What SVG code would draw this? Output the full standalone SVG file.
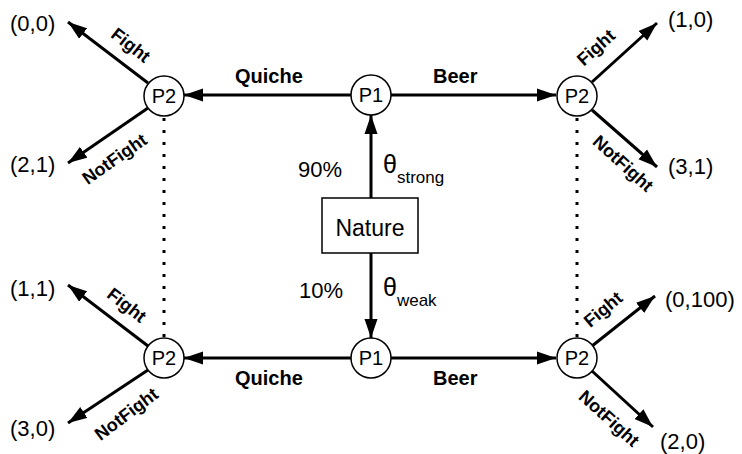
<svg xmlns="http://www.w3.org/2000/svg" width="742" height="454" viewBox="0 0 742 454">
<defs>
<marker id="ah" markerUnits="userSpaceOnUse" markerWidth="20" markerHeight="14" refX="19" refY="7" orient="auto"><path d="M0,0.5 L19,7 L0,13.5 z" fill="#000"/></marker>
<style>
.e{stroke:#000;stroke-width:3;fill:none;marker-end:url(#ah)}
.d{stroke:#000;stroke-width:3;fill:none;stroke-dasharray:3 9}
.n{fill:#fff;stroke:#000;stroke-width:1.5}
.t{font-family:"Liberation Sans",Arial,sans-serif;fill:#000}
.c{font-size:20px;text-anchor:middle}
.p{font-size:22px}
.b{font-size:20px;font-weight:bold}
.l{font-size:18px;font-weight:bold;text-anchor:middle}
</style>
</defs>
<g id="connectors">
<line class="e" x1="351" y1="95" x2="184" y2="95"/>
<line class="e" x1="391" y1="95" x2="556" y2="95"/>
<line class="e" x1="351" y1="358" x2="184" y2="358"/>
<line class="e" x1="391" y1="358" x2="556" y2="358"/>
<line class="e" x1="371" y1="198" x2="371" y2="115"/>
<line class="e" x1="371" y1="253" x2="371" y2="338"/>
<line class="e" x1="148" y1="83" x2="68" y2="22"/>
<line class="e" x1="148" y1="108" x2="68" y2="163"/>
<line class="e" x1="148" y1="346" x2="68" y2="285"/>
<line class="e" x1="148" y1="370" x2="68" y2="423"/>
<line class="e" x1="592" y1="82" x2="657" y2="23"/>
<line class="e" x1="592" y1="110" x2="657" y2="167"/>
<line class="e" x1="592" y1="346" x2="655" y2="296"/>
<line class="e" x1="592" y1="371" x2="653" y2="427"/>
<line class="d" x1="164" y1="118" x2="164" y2="337"/>
<line class="d" x1="577" y1="118" x2="577" y2="337"/>
<text class="t b" x="235" y="83">Quiche</text>
<text class="t b" x="433" y="83">Beer</text>
<text class="t b" x="235" y="385">Quiche</text>
<text class="t b" x="433" y="385">Beer</text>
<text class="t p" x="298" y="177">90%</text>
<text class="t p" x="299" y="298">10%</text>
<text class="t" style="font-size:25px" x="383" y="173">θ<tspan font-size="17" dy="10">strong</tspan></text>
<text class="t" style="font-size:25px" x="383" y="296">θ<tspan font-size="17" dy="10">weak</tspan></text>
<text class="t l" transform="translate(127,50) rotate(38)">Fight</text>
<text class="t l" transform="translate(118,164) rotate(-35)">NotFight</text>
<text class="t l" transform="translate(600,52) rotate(-42)">Fight</text>
<text class="t l" transform="translate(619,168) rotate(42)">NotFight</text>
<text class="t l" transform="translate(123,310) rotate(38)">Fight</text>
<text class="t l" transform="translate(130,419) rotate(-37)">NotFight</text>
<text class="t l" transform="translate(607,314) rotate(-40)">Fight</text>
<text class="t l" transform="translate(605,423) rotate(42)">NotFight</text>
</g>
<g id="nature"><rect class="n" x="322" y="198" width="96" height="55"/><text class="t c" style="font-size:23px" x="370" y="236">Nature</text></g>
<g id="p1-top"><circle class="n" cx="371" cy="95" r="20"/><text class="t c" x="371" y="102">P1</text></g>
<g id="p1-bottom"><circle class="n" cx="371" cy="358" r="20"/><text class="t c" x="371" y="365">P1</text></g>
<g id="p2-top-left"><circle class="n" cx="164" cy="96" r="20"/><text class="t c" x="164" y="103">P2</text></g>
<g id="p2-top-right"><circle class="n" cx="577" cy="96" r="20"/><text class="t c" x="577" y="103">P2</text></g>
<g id="p2-bottom-left"><circle class="n" cx="164" cy="358" r="20"/><text class="t c" x="164" y="365">P2</text></g>
<g id="p2-bottom-right"><circle class="n" cx="577" cy="358" r="20"/><text class="t c" x="577" y="365">P2</text></g>
<g id="payoff-1"><text class="t p" x="10" y="31">(0,0)</text></g>
<g id="payoff-2"><text class="t p" x="10" y="172">(2,1)</text></g>
<g id="payoff-3"><text class="t p" x="668" y="27">(1,0)</text></g>
<g id="payoff-4"><text class="t p" x="668" y="174">(3,1)</text></g>
<g id="payoff-5"><text class="t p" x="10" y="296">(1,1)</text></g>
<g id="payoff-6"><text class="t p" x="10" y="436">(3,0)</text></g>
<g id="payoff-7"><text class="t p" x="665" y="307">(0,100)</text></g>
<g id="payoff-8"><text class="t p" x="660" y="449">(2,0)</text></g>
</svg>
